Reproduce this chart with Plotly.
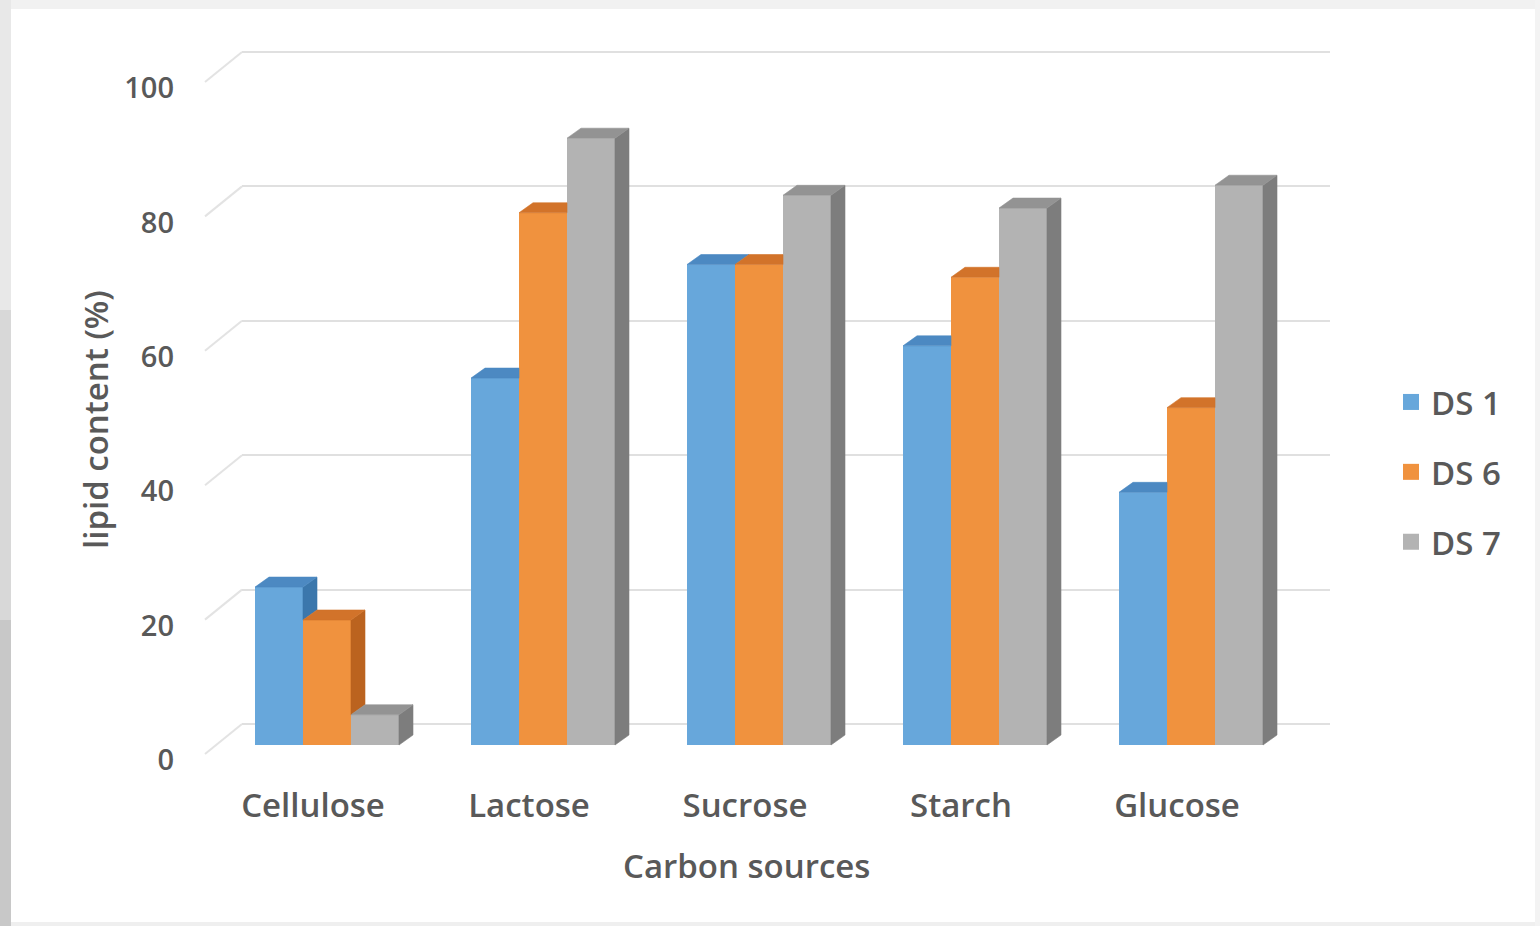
import plotly.graph_objects as go

# Lipid content (%) per carbon source for three strains
categories = ["Cellulose", "Lactose", "Sucrose", "Starch", "Glucose"]
series_names = ["DS 1", "DS 6", "DS 7"]
ds1 = [23.5, 54.6, 71.5, 59.4, 37.6]
ds6 = [18.6, 79.2, 71.5, 69.6, 50.2]
ds7 = [4.5, 90.3, 81.8, 79.9, 83.3]
y_ticks = [0, 20, 40, 60, 80, 100]

series_values = [ds1, ds6, ds7]
front_colors = ["#67A7DB", "#F0923E", "#B3B3B3"]
top_colors = ["#4C89C2", "#D2732A", "#939393"]
side_colors = ["#3B77AC", "#BB631F", "#7D7D7D"]

W, H = 1540, 926
L, R, T, B = 242, 210, 40, 166
plot_w, plot_h = W - L - R, H - T - B

# category axis: one unit per group, bars fill 2/3 of it
bar_w = 0.2222
group_start = -1.5 * bar_w
x_range = [-0.3935, 4.6435]
px_per_x = plot_w / (x_range[1] - x_range[0])

# value axes: back wall (grid, labels) and front plane (bars)
back_range = [-5.357, 101.786]
front_range = [-2.232, 104.911]
px_per_y = plot_h / (back_range[1] - back_range[0])

# depth of the 3-D columns in axis units
depth_dx = 14 / px_per_x
depth_dy = 10 / px_per_y

fig = go.Figure()

# front faces
for k, vals in enumerate(series_values):
    fig.add_trace(go.Bar(
        x=list(range(len(categories))), y=vals, width=bar_w,
        offset=group_start + k * bar_w, yaxis="y2",
        marker=dict(color=front_colors[k], line=dict(width=0)),
        showlegend=False, hoverinfo="skip",
    ))

# side and top faces, clipped where the next column in the group hides them
for k, vals in enumerate(series_values):
    side_x, side_y, top_x, top_y = [], [], [], []
    for i, v in enumerate(vals):
        xl = i + group_start + k * bar_w
        xr = xl + bar_w
        vn = series_values[k + 1][i] if k + 1 < len(series_values) else None
        lo = max(0.0, vn) if vn is not None else 0.0
        if v > lo:
            side_x += [xr, xr, xr + depth_dx, xr + depth_dx, xr, None]
            side_y += [lo, v, v + depth_dy, lo + depth_dy, lo, None]
        c = 0.0 if vn is None else min(max(vn - v, 0.0), depth_dy)
        if c <= 0:
            pts = [(xl, v), (xr, v), (xr + depth_dx, v + depth_dy),
                   (xl + depth_dx, v + depth_dy)]
        elif c >= depth_dy:
            pts = [(xl, v), (xr, v), (xr, v + depth_dy),
                   (xl + depth_dx, v + depth_dy)]
        else:
            pts = [(xl, v), (xr, v), (xr, v + c),
                   (xr + depth_dx * c / depth_dy, v + c),
                   (xr + depth_dx, v + depth_dy), (xl + depth_dx, v + depth_dy)]
        pts.append(pts[0])
        top_x += [p[0] for p in pts] + [None]
        top_y += [p[1] for p in pts] + [None]
    fig.add_trace(go.Scatter(
        x=side_x, y=side_y, yaxis="y2", mode="lines", fill="toself",
        fillcolor=side_colors[k], line=dict(width=0.6, color=side_colors[k]),
        showlegend=False, hoverinfo="skip",
    ))
    fig.add_trace(go.Scatter(
        x=top_x, y=top_y, yaxis="y2", mode="lines", fill="toself",
        fillcolor=top_colors[k], line=dict(width=0.6, color=top_colors[k]),
        showlegend=False, hoverinfo="skip",
    ))

# legend entries
for k, name in enumerate(series_names):
    fig.add_trace(go.Scatter(
        x=[None], y=[None], mode="markers", name=name, legendgroup=name,
        marker=dict(symbol="square", size=20, color=front_colors[k]),
    ))

text_color = "#595959"
font_family = "Open Sans"
label_font = dict(family=font_family, size=33, color=text_color, weight=600)

shapes = []
# perspective connectors from the value labels to the back-wall grid lines
for v in y_ticks:
    shapes.append(dict(
        type="line", xref="paper", yref="y",
        x0=-37 / plot_w, y0=v - 30 / px_per_y, x1=0, y1=v,
        line=dict(color="#e3e3e3", width=2), layer="below",
    ))


def px_x(p):
    return (p - L) / plot_w


def px_y(p):
    return (H - B - p) / plot_h


# page frame
for y0, y1, col in [(0, 310, "#e8e8e8"), (310, 620, "#d8d8d8"), (620, 926, "#c8c8c8")]:
    shapes.append(dict(type="rect", xref="paper", yref="paper",
                       x0=px_x(0), x1=px_x(11), y0=px_y(y1), y1=px_y(y0),
                       fillcolor=col, line=dict(width=0), layer="below"))
shapes.append(dict(type="rect", xref="paper", yref="paper",
                   x0=px_x(11), x1=px_x(W), y0=px_y(9), y1=px_y(0),
                   fillcolor="#f1f1f1", line=dict(width=0), layer="below"))
shapes.append(dict(type="rect", xref="paper", yref="paper",
                   x0=px_x(11), x1=px_x(W), y0=px_y(H), y1=px_y(922),
                   fillcolor="#efefef", line=dict(width=0), layer="below"))
shapes.append(dict(type="rect", xref="paper", yref="paper",
                   x0=px_x(1535), x1=px_x(W), y0=px_y(H), y1=px_y(0),
                   fillcolor="#f3f3f3", line=dict(width=0), layer="below"))

fig.update_layout(
    width=W, height=H,
    margin=dict(l=L, r=R, t=T, b=B),
    paper_bgcolor="white", plot_bgcolor="rgba(0,0,0,0)",
    barmode="overlay",
    font=dict(family=font_family, color=text_color),
    xaxis=dict(
        range=x_range, tickmode="array", tickvals=list(range(len(categories))),
        ticktext=categories, showgrid=False, zeroline=False, showline=False,
        ticks="", tickfont=label_font,
        ticklabelshift=-14, ticklabelstandoff=23,
    ),
    yaxis=dict(
        range=back_range, tickmode="array", tickvals=y_ticks,
        showgrid=True, gridcolor="#e0e0e0", gridwidth=2, zeroline=False,
        showline=False, ticks="",
        tickfont=dict(family=font_family, size=29, color=text_color, weight=600),
        ticklabelshift=36, ticklabelstandoff=67,
    ),
    yaxis2=dict(range=front_range, overlaying="y", visible=False),
    legend=dict(
        x=px_x(1391), y=px_y(472), xanchor="left", yanchor="middle",
        font=label_font, tracegroupgap=24,
        bgcolor="rgba(0,0,0,0)",
    ),
    shapes=shapes,
    annotations=[
        dict(text="Carbon sources", xref="paper", yref="paper",
             x=px_x(746), y=px_y(865), xanchor="center", yanchor="middle",
             showarrow=False, font=label_font),
        dict(text="lipid content (%)", xref="paper", yref="paper",
             x=px_x(95), y=px_y(420), xanchor="center", yanchor="middle",
             textangle=-90, showarrow=False, font=label_font),
    ],
)

fig.write_html("out.html")
